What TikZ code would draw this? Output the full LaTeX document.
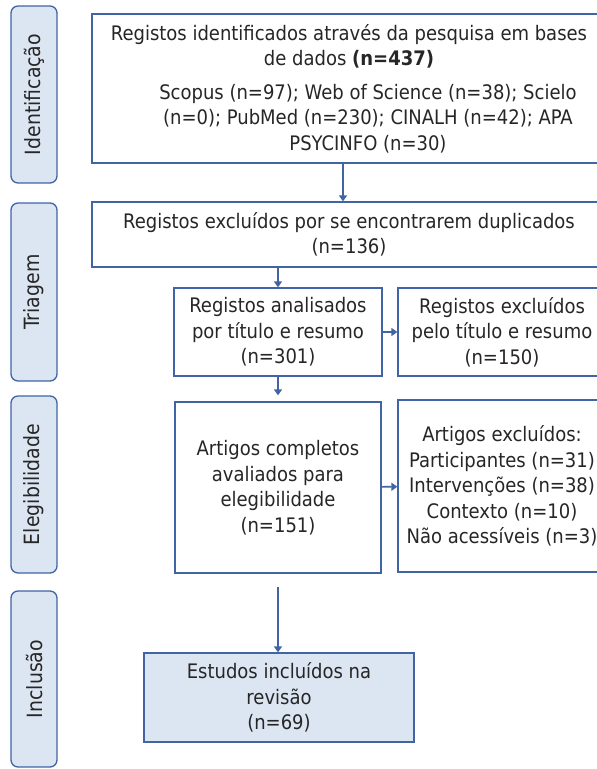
\documentclass[tikz,border=0pt]{standalone}
\usepackage{fontspec}
\setmainfont{DejaVu Sans Condensed}
\usepackage{tikz}
\usetikzlibrary{arrows.meta}

\definecolor{prismaline}{RGB}{65,100,165}
\definecolor{prismafill}{RGB}{220,230,242}
\definecolor{prismatext}{RGB}{38,38,38}

\begin{document}
\begin{tikzpicture}[x=1pt, y=-1pt,
  every node/.style={font=\fontsize{20}{25.5}\selectfont, text=prismatext},
  sbox/.style={draw=prismaline, line width=1.3pt, align=center, inner sep=0pt},
  phase/.style={draw=prismaline, line width=1.3pt, fill=prismafill,
                font=\fontsize{21}{25}\selectfont,
                rounded corners=7pt, rotate=90, minimum height=46pt, inner sep=0pt},
  arr/.style={-{Triangle[width=8pt,length=6pt]}, prismaline, line width=1.6pt}]

  \useasboundingbox (0,0) rectangle (597,769);
  \clip (0,0) rectangle (597,769);

  % Phases
  \node[phase, minimum width=177pt] (pIdent)   at (34, 94.5) {Identificação};
  \node[phase, minimum width=178pt] (pTriagem) at (34, 292)  {Triagem};
  \node[phase, minimum width=177pt] (pEleg)    at (34, 484.5) {Elegibilidade};
  \node[phase, minimum width=176pt] (pIncl)    at (34, 679)  {Inclusão};

  % Boxes
  \node[sbox, minimum width=514pt, minimum height=149pt] (ident) at (349, 88.5)
    {Registos identificados através da pesquisa em bases\\
     de dados \textbf{(n=437)}\\[8pt]
     \hspace*{38pt}Scopus (n=97); Web of Science (n=38); Scielo\\
     \hspace*{38pt}(n=0); PubMed (n=230); CINALH (n=42); APA\\
     \hspace*{38pt}PSYCINFO (n=30)};
  \node[sbox, minimum width=514pt, minimum height=65pt] (dup) at (349, 234.5)
    {Registos excluídos por se encontrarem duplicados\\(n=136)};
  \node[sbox, minimum width=208pt, minimum height=88pt] (titulo) at (278, 332)
    {Registos analisados\\por título e resumo\\(n=301)};
  \node[sbox, minimum width=208pt, minimum height=88pt] (exTitulo) at (502, 332)
    {Registos excluídos\\pelo título e resumo\\(n=150)};
  \node[sbox, minimum width=206pt, minimum height=171pt] (completos) at (278, 487.5)
    {Artigos completos\\avaliados para\\elegibilidade\\(n=151)};
  \node[sbox, minimum width=208pt, minimum height=172pt] (exCompletos) at (502, 486)
    {Artigos excluídos:\\Participantes (n=31)\\Intervenções (n=38)\\Contexto (n=10)\\Não acessíveis (n=3)};
  \node[sbox, fill=prismafill, minimum width=270pt, minimum height=89pt] (incluidos) at (279, 697.5)
    {Estudos incluídos na\\revisão\\(n=69)};

  % Arrows
  \draw[arr] ([xshift=-6pt]ident.south) -- ([xshift=-6pt]dup.north);
  \draw[arr] (titulo.north |- dup.south) -- (titulo.north);
  \draw[arr] (titulo) -- (exTitulo);
  \draw[arr, shorten >=6pt] (titulo) -- (completos);
  \draw[arr] (completos) -- (exCompletos);
  \draw[arr] ([yshift=-13pt]completos.south) -- (completos.south |- incluidos.north);
\end{tikzpicture}
\end{document}
